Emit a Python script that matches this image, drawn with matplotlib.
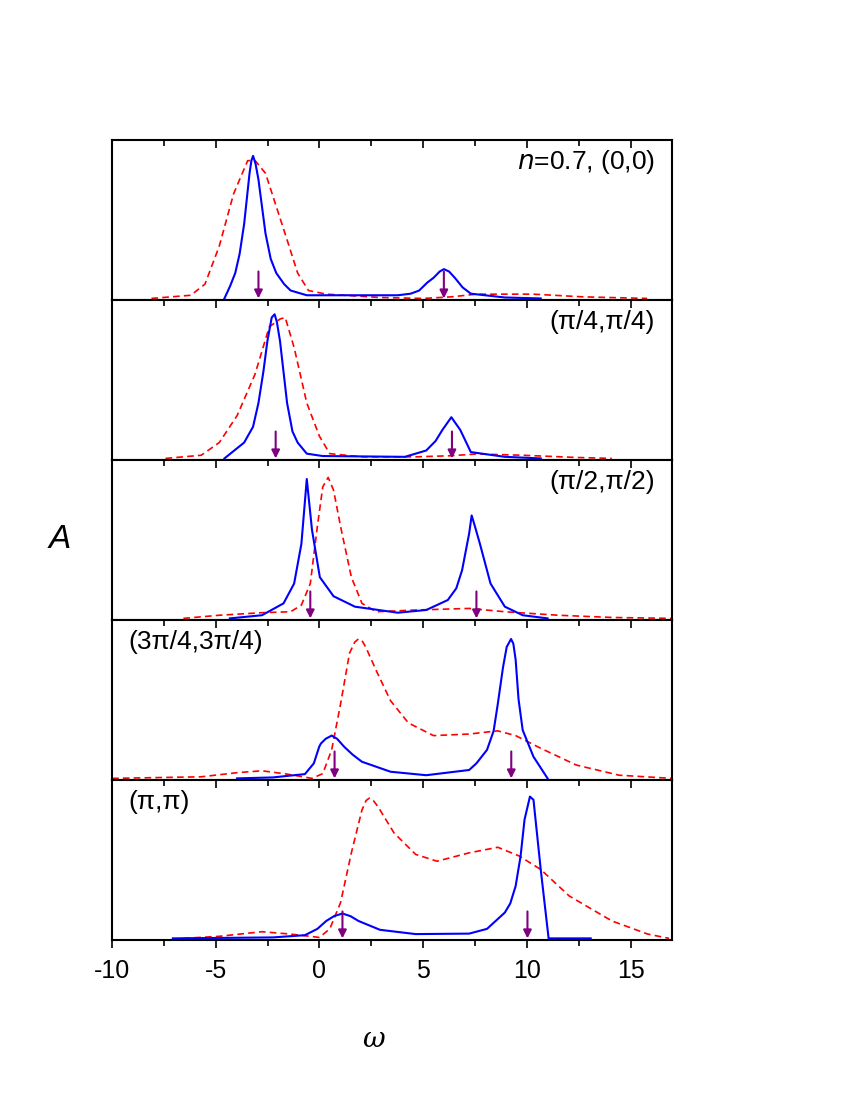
import matplotlib
matplotlib.use("Agg")
import matplotlib.pyplot as plt
from matplotlib.ticker import MultipleLocator

plt.rcParams["font.family"] = "Liberation Sans"
plt.rcParams["axes.unicode_minus"] = False

# omega / normalized A for each panel (blue solid, red dashed), arrow positions
BLUE_W = [
    [-4.58, -4.3, -4.06, -3.85, -3.63, -3.37, -3.28, -3.2, -3.08, -2.94, -2.77, -2.6, -2.35, -2.08, -1.7, -1.39, -0.61, 3.78, 4.4, 4.81, 5.2, 5.5, 5.8, 6.0, 6.25, 6.53, 6.9, 7.3, 8.94, 10.67],
    [-4.58, -3.63, -3.2, -2.94, -2.7, -2.51, -2.3, -2.16, -2.05, -1.9, -1.56, -1.3, -1.05, -0.61, 0.16, 4.12, 5.15, 5.6, 5.93, 6.36, 6.79, 7.3, 8.94, 10.67],
    [-4.32, -2.77, -1.73, -1.22, -0.87, -0.61, -0.36, 0.02, 0.68, 1.71, 3.78, 5.15, 6.19, 6.6, 6.88, 7.22, 7.34, 7.5, 7.74, 8.25, 8.94, 9.8, 11.0],
    [-3.97, -2.25, -0.7, -0.27, -0.01, 0.07, 0.3, 0.59, 0.85, 1.19, 1.6, 2.05, 3.43, 5.15, 7.22, 7.57, 8.08, 8.4, 8.6, 8.85, 9.03, 9.24, 9.35, 9.46, 9.6, 9.8, 10.32, 11.0],
    [-7.07, -2.25, -0.7, -0.1, 0.33, 0.7, 1.11, 1.5, 1.88, 2.92, 4.64, 7.22, 8.08, 8.94, 9.2, 9.46, 9.7, 9.89, 10.15, 10.32, 10.67, 11.05, 13.08],
]
BLUE_A = [
    [0, 0.08, 0.16, 0.28, 0.47, 0.79, 0.87, 0.90, 0.85, 0.75, 0.58, 0.41, 0.25, 0.16, 0.09, 0.05, 0.02, 0.02, 0.03, 0.05, 0.1, 0.13, 0.17, 0.185, 0.17, 0.13, 0.07, 0.03, 0.006, 0],
    [0, 0.1, 0.2, 0.35, 0.55, 0.74, 0.89, 0.91, 0.86, 0.74, 0.35, 0.17, 0.1, 0.03, 0.015, 0.01, 0.05, 0.11, 0.18, 0.26, 0.18, 0.04, 0.01, 0],
    [0, 0.02, 0.095, 0.22, 0.47, 0.88, 0.56, 0.26, 0.14, 0.074, 0.036, 0.053, 0.116, 0.19, 0.305, 0.537, 0.65, 0.58, 0.47, 0.22, 0.074, 0.02, 0],
    [0, 0.006, 0.027, 0.095, 0.2, 0.22, 0.25, 0.27, 0.25, 0.2, 0.15, 0.105, 0.042, 0.02, 0.053, 0.095, 0.18, 0.3, 0.47, 0.7, 0.83, 0.88, 0.85, 0.75, 0.5, 0.305, 0.137, 0],
    [0, 0.006, 0.02, 0.06, 0.11, 0.14, 0.157, 0.14, 0.11, 0.054, 0.027, 0.03, 0.06, 0.163, 0.22, 0.33, 0.52, 0.75, 0.895, 0.875, 0.435, 0, 0],
]
RED_W = [
    [-8.1, -6.2, -5.52, -4.83, -4.14, -3.46, -3.1, -2.6, -2.08, -1.56, -1.05, -0.53, 0.33, 2.9, 5.0, 6.36, 7.57, 10.3, 12.7, 15.8],
    [-7.42, -5.7, -4.83, -3.97, -3.11, -2.42, -1.9, -1.65, -1.22, -0.61, 0.0, 0.5, 2.05, 4.64, 6.36, 7.57, 9.8, 12.4, 14.1],
    [-6.56, -4.83, -2.77, -1.39, -0.87, -0.44, -0.1, 0.16, 0.42, 0.68, 1.02, 1.54, 2.05, 2.74, 4.64, 7.22, 8.94, 11.5, 14.1, 17.0],
    [-10.0, -5.7, -3.97, -2.77, -1.56, -0.36, 0.16, 0.59, 1.02, 1.45, 1.7, 1.88, 2.05, 2.23, 2.74, 3.43, 4.29, 5.5, 7.22, 8.6, 9.46, 10.67, 12.39, 14.45, 17.0],
    [-6.56, -4.83, -2.77, -1.39, 0.0, 0.5, 1.02, 1.54, 2.05, 2.25, 2.4, 2.6, 2.83, 3.6, 4.64, 5.67, 7.22, 8.6, 9.63, 10.67, 12.04, 14.1, 15.83, 16.86],
]
RED_A = [
    [0, 0.02, 0.09, 0.33, 0.66, 0.87, 0.87, 0.79, 0.58, 0.37, 0.16, 0.05, 0.027, 0.006, 0, 0.01, 0.027, 0.027, 0.01, 0],
    [0, 0.02, 0.1, 0.27, 0.53, 0.83, 0.88, 0.89, 0.70, 0.35, 0.14, 0.03, 0.01, 0.01, 0.017, 0.028, 0.02, 0.006, 0],
    [0, 0.02, 0.036, 0.042, 0.084, 0.22, 0.58, 0.83, 0.89, 0.81, 0.58, 0.26, 0.095, 0.042, 0.053, 0.063, 0.042, 0.02, 0.006, 0],
    [0, 0.01, 0.036, 0.048, 0.027, 0, 0.03, 0.18, 0.47, 0.79, 0.86, 0.88, 0.87, 0.83, 0.68, 0.49, 0.35, 0.27, 0.28, 0.3, 0.27, 0.19, 0.084, 0.02, 0],
    [0, 0.013, 0.042, 0.027, 0.006, 0.06, 0.226, 0.54, 0.81, 0.87, 0.885, 0.87, 0.83, 0.665, 0.53, 0.487, 0.54, 0.575, 0.52, 0.435, 0.268, 0.11, 0.027, 0],
]
ARROWS = [[-2.94, 6.0], [-2.11, 6.39], [-0.44, 7.57], [0.73, 9.25], [1.11, 10.03]]
LABELS = [r"$n$=0.7, (0,0)", "(π/4,π/4)", "(π/2,π/2)", "(3π/4,3π/4)", "(π,π)"]

fig, axes = plt.subplots(5, 1, figsize=(8.5, 11), dpi=100, sharex=True)
fig.subplots_adjust(left=0.1318, right=0.7906, bottom=0.1455, top=0.8727, hspace=0)

for i, ax in enumerate(axes):
    ax.plot(RED_W[i], RED_A[i], color="red", ls=(0, (4, 2.5)), lw=1.2)
    ax.plot(BLUE_W[i], BLUE_A[i], color="blue", lw=1.5)
    for w in ARROWS[i]:
        ax.annotate("", xy=(w, 0.0), xytext=(w, 0.17),
                    arrowprops=dict(arrowstyle="-|>", color="purple", lw=1.5,
                                    mutation_scale=12, shrinkA=0, shrinkB=0))
    ax.set_xlim(-10, 17)
    ax.set_ylim(-0.01, 1.0)
    ax.set_yticks([])
    ax.xaxis.set_major_locator(MultipleLocator(5))
    ax.xaxis.set_minor_locator(MultipleLocator(2.5))
    ax.tick_params(axis="x", which="both", direction="out", top=True, labelsize=18, width=1.2, pad=8)
    ax.tick_params(axis="x", which="major", length=6)
    ax.tick_params(axis="x", which="minor", length=4)
    for s in ax.spines.values():
        s.set_linewidth(1.5)
    if i < 3:
        ax.text(0.97, 0.86, LABELS[i], transform=ax.transAxes, ha="right", va="center", fontsize=19)
    else:
        ax.text(0.03, 0.86, LABELS[i], transform=ax.transAxes, ha="left", va="center", fontsize=19)
    if i < 4:
        ax.tick_params(axis="x", which="both", bottom=False)

# top ticks point into each panel
for ax in axes:
    for t in ax.xaxis.get_major_ticks() + ax.xaxis.get_minor_ticks():
        t.tick2line.set_marker(3)

fig.text(0.44, 0.055, "ω", family="DejaVu Serif", style="italic", fontsize=20, ha="center", va="center")
fig.text(0.07, 0.51, "A", style="italic", fontsize=24, ha="center", va="center")

fig.savefig("out.png", dpi=100)
